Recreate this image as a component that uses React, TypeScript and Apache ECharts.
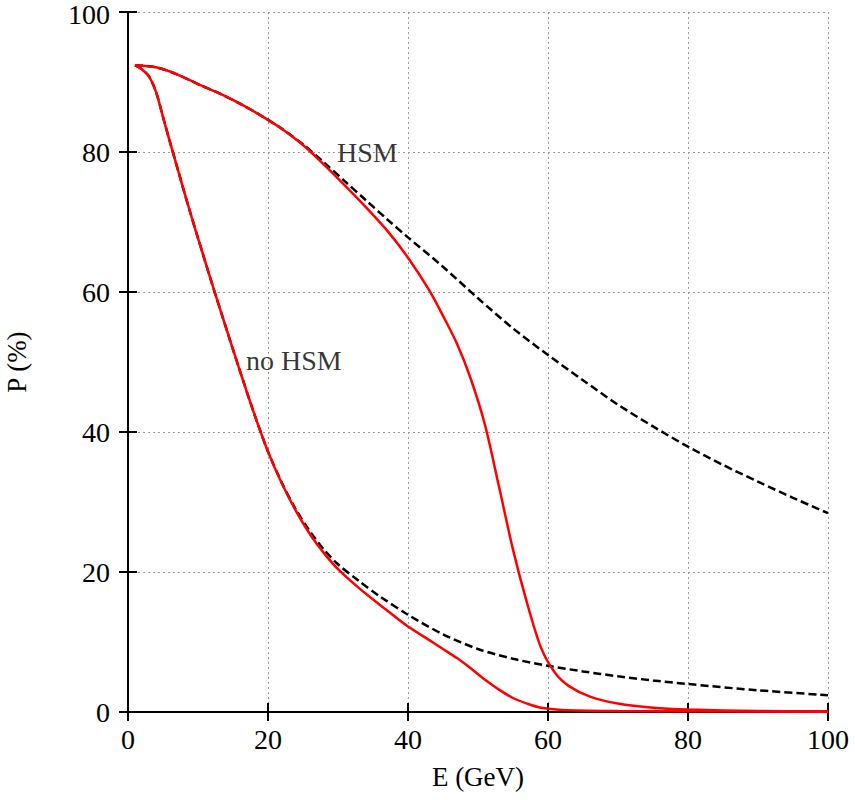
import React, { useEffect, useRef } from "react";
import * as echarts from "echarts";

// HSM, full calculation (red solid)
const hsmE = [1, 4, 7, 10, 13, 16, 19, 22, 25, 28, 31, 34, 37, 40, 43, 45, 47, 49, 51, 53, 55, 57, 59, 61, 63, 66, 70, 75, 80, 90, 100];
const hsmP = [92.4, 92.1, 91.1, 89.7, 88.4, 86.9, 85.2, 83.3, 81.0, 78.2, 75.2, 72.1, 68.8, 64.9, 60.3, 56.6, 52.6, 47.5, 41.0, 32.2, 23.2, 15.6, 9.2, 5.6, 3.7, 2.2, 1.2, 0.6, 0.35, 0.15, 0.1];

// HSM, approximation (black dashed)
const hsmApproxE = [1, 4, 7, 10, 13, 16, 19, 22, 25, 28, 31, 34, 37, 40, 45, 50, 55, 60, 65, 70, 75, 80, 85, 90, 95, 100];
const hsmApproxP = [92.4, 92.1, 91.1, 89.7, 88.4, 86.9, 85.2, 83.3, 81.1, 78.5, 75.8, 73.1, 70.4, 67.8, 63.6, 59.1, 54.8, 51.0, 47.4, 43.9, 40.8, 37.9, 35.3, 32.9, 30.6, 28.4];

// no HSM, full calculation (red solid)
const noHsmE = [1, 2, 3, 4, 5, 6, 7, 8, 9, 10, 12, 14, 16, 18, 20, 22, 24, 26, 28, 30, 33, 36, 40, 43, 45, 47, 49, 51, 53, 55, 57, 59, 62, 70, 80, 100];
const noHsmP = [92.4, 91.8, 90.8, 88.6, 85.0, 81.4, 77.9, 74.4, 71.0, 67.7, 61.2, 54.9, 48.7, 42.7, 37.2, 32.6, 28.7, 25.4, 22.7, 20.4, 17.7, 15.3, 12.2, 10.3, 9.0, 7.7, 6.2, 4.6, 3.2, 2.0, 1.2, 0.6, 0.3, 0.15, 0.1, 0.05];

// no HSM, approximation (black dashed)
const noHsmApproxE = [1, 2, 3, 4, 5, 6, 7, 8, 9, 10, 12, 14, 16, 18, 20, 22, 24, 26, 28, 30, 33, 36, 40, 45, 50, 55, 60, 65, 70, 75, 80, 90, 100];
const noHsmApproxP = [92.4, 91.8, 90.8, 88.6, 85.0, 81.4, 77.9, 74.4, 71.0, 67.7, 61.2, 54.9, 48.7, 42.7, 37.2, 32.7, 28.9, 25.8, 23.2, 21.1, 18.7, 16.5, 13.9, 11.1, 9.0, 7.6, 6.6, 5.8, 5.1, 4.5, 4.0, 3.1, 2.4];

const xTicks = [0, 20, 40, 60, 80, 100];
const yTicks = [0, 20, 40, 60, 80, 100];

const curveLabels = [
  { text: "HSM", E: 34.2, P: 80 },
  { text: "no HSM", E: 23.7, P: 50.2 },
];

const zip = (xs: number[], ys: number[]) => xs.map((x, i) => [x, ys[i]]);

const FONT = '"Liberation Serif", "Times New Roman", Times, serif';

export default function App() {
  const ref = useRef<HTMLDivElement>(null);
  useEffect(() => {
    if (!ref.current) return;
    const chart = echarts.init(ref.current, null, { renderer: "svg" });
    const axisLine = { show: true, lineStyle: { color: "#000", width: 2 } };
    const tick = { show: true, inside: true, length: 9, lineStyle: { color: "#000", width: 2 } };
    const grid = { show: true, lineStyle: { color: "#999", type: [2, 3] as any, width: 1 } };
    const label = { color: "#000", fontFamily: FONT, fontSize: 28 };
    const yMax = yTicks[yTicks.length - 1];
    chart.setOption({
      animation: false,
      backgroundColor: "#fff",
      grid: { left: 128, right: 27, top: 12, bottom: 88, containLabel: false, outerBoundsMode: "none" },
      xAxis: [
        {
          type: "value", min: 0, max: 100, interval: 20, position: "bottom",
          axisLine, axisTick: tick, splitLine: grid,
          axisLabel: { ...label, margin: 13, formatter: (v: number) => (xTicks.includes(v) ? String(v) : "") },
          name: "E (GeV)", nameLocation: "middle", nameGap: 51,
          nameTextStyle: { color: "#000", fontFamily: FONT, fontSize: 27 },
        },
        {
          type: "value", min: 0, max: 100, interval: 20, position: "top",
          axisLine, axisTick: tick, splitLine: { show: false }, axisLabel: { show: false },
        },
      ],
      yAxis: [
        {
          type: "value", min: 0, max: 100, interval: 20, position: "left",
          axisLine, axisTick: tick, splitLine: grid,
          axisLabel: {
            ...label, lineHeight: 22, margin: 18,
            formatter: (v: number) => (v === yMax ? "{top|" + v + "}" : yTicks.includes(v) ? String(v) : ""),
            rich: { top: { color: "#000", fontFamily: FONT, fontSize: 28, lineHeight: 22, padding: [5, 0, 0, 0] } },
          },
          name: "P (%)", nameLocation: "middle", nameGap: 98, nameRotate: 90,
          nameTextStyle: { color: "#000", fontFamily: FONT, fontSize: 27 },
        },
        {
          type: "value", min: 0, max: 100, interval: 20, position: "right",
          axisLine, axisTick: tick, splitLine: { show: false }, axisLabel: { show: false },
        },
      ],
      series: [
        {
          type: "line", name: "HSM approx", data: zip(hsmApproxE, hsmApproxP), showSymbol: false,
          smooth: 0.3, z: 2,
          lineStyle: { color: "#000", width: 2.5, type: [8, 4] as any },
        },
        {
          type: "line", name: "no HSM approx", data: zip(noHsmApproxE, noHsmApproxP), showSymbol: false,
          smooth: 0.3, z: 2,
          lineStyle: { color: "#000", width: 2.5, type: [8, 4] as any },
        },
        {
          type: "line", name: "HSM", data: zip(hsmE, hsmP), showSymbol: false,
          smooth: 0.3, z: 3,
          lineStyle: { color: "#ff0000", width: 2.5 },
        },
        {
          type: "line", name: "no HSM", data: zip(noHsmE, noHsmP), showSymbol: false,
          smooth: 0.3, z: 3,
          lineStyle: { color: "#ff0000", width: 2.5 },
        },
        {
          type: "scatter", name: "labels", symbolSize: 0, silent: true, z: 4,
          data: curveLabels.map((l) => ({ value: [l.E, l.P], name: l.text })),
          label: {
            show: true, position: "inside", formatter: (p: any) => p.name,
            color: "#000", fontFamily: FONT, fontSize: 28,
          },
        },
      ],
    });
    return () => chart.dispose();
  }, []);
  return <div ref={ref} style={{ position: "fixed", left: 0, top: 0, width: 855, height: 800 }} />;
}
